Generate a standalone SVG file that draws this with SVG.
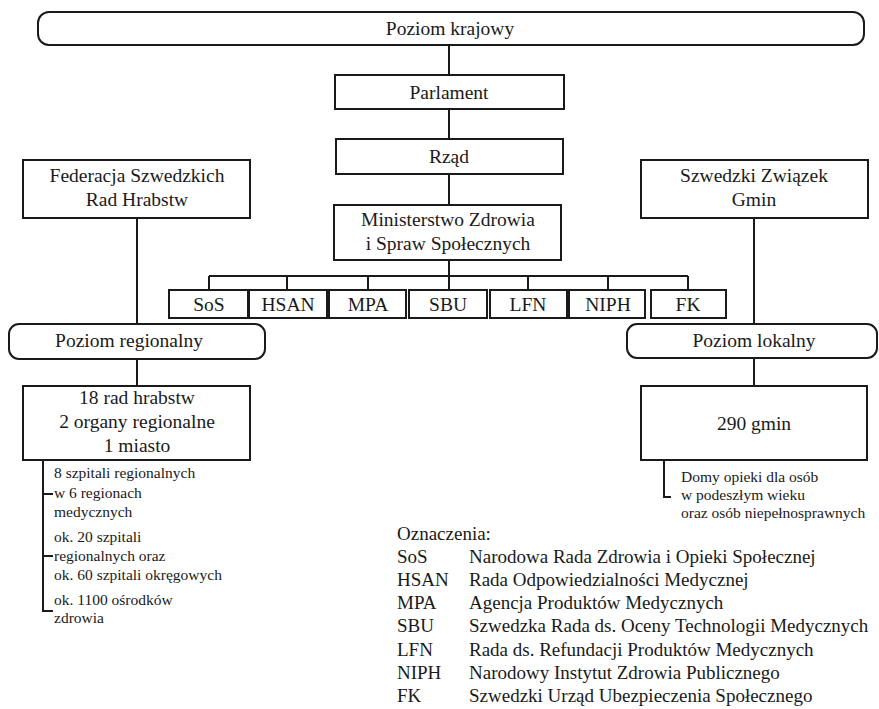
<svg xmlns="http://www.w3.org/2000/svg" width="879" height="709" viewBox="0 0 879 709">
<style>
.b{fill:#fff;stroke:#1a1a1a;stroke-width:2}
.l{fill:none;stroke:#1a1a1a;stroke-width:2}
text{font-family:"Liberation Serif","Times New Roman",serif;fill:#1a1a1a}
.t{font-size:19.5px;text-anchor:middle}
.s{font-size:15.5px}
.g{font-size:19px}
</style>
<rect width="879" height="709" fill="#fff"/>
<g id="connectors">
<path class="l" d="M449 45V75M449 109V139M449 174V205M449 260V290M209 276H688M209 276V290M287 276V290M368 276V290M528 276V290M608 276V290M688 276V290"/>
<path class="l" d="M137 218V324M137 359V386M754 218V324M754 358V386"/>
<path class="l" d="M43 460V611H53M43 494H53M43 556H53M664 460V497H671"/>
</g>
<g id="krajowy"><rect class="b" x="38" y="12" width="826" height="33" rx="11"/><text class="t" x="450" y="35">Poziom krajowy</text></g>
<g id="parlament"><rect class="b" x="335" y="75" width="229" height="34"/><text class="t" x="449" y="99">Parlament</text></g>
<g id="rzad"><rect class="b" x="336" y="139" width="227" height="35"/><text class="t" x="449" y="163">Rząd</text></g>
<g id="ministerstwo"><rect class="b" x="334" y="205" width="227" height="55"/><text class="t" x="448" y="226">Ministerstwo Zdrowia</text><text class="t" x="448" y="250">i Spraw Społecznych</text></g>
<g id="sos"><rect class="b" x="169" y="290" width="79" height="28"/><text class="t" x="209" y="311">SoS</text></g>
<g id="hsan"><rect class="b" x="249" y="290" width="78" height="28"/><text class="t" x="288" y="311">HSAN</text></g>
<g id="mpa"><rect class="b" x="329" y="290" width="77" height="28"/><text class="t" x="368" y="311">MPA</text></g>
<g id="sbu"><rect class="b" x="409" y="290" width="78" height="28"/><text class="t" x="448" y="311">SBU</text></g>
<g id="lfn"><rect class="b" x="490" y="290" width="77" height="28"/><text class="t" x="528" y="311">LFN</text></g>
<g id="niph"><rect class="b" x="569" y="290" width="76" height="28"/><text class="t" x="608" y="311">NIPH</text></g>
<g id="fk"><rect class="b" x="651" y="290" width="75" height="28"/><text class="t" x="688" y="311">FK</text></g>
<g id="federacja"><rect class="b" x="23" y="160" width="227" height="58"/><text class="t" x="137" y="182">Federacja Szwedzkich</text><text class="t" x="137" y="206">Rad Hrabstw</text></g>
<g id="zwiazek"><rect class="b" x="641" y="160" width="227" height="58"/><text class="t" x="754" y="182">Szwedzki Związek</text><text class="t" x="754" y="206">Gmin</text></g>
<g id="regionalny"><rect class="b" x="9" y="324" width="256" height="35" rx="10"/><text class="t" x="129" y="347">Poziom regionalny</text></g>
<g id="lokalny"><rect class="b" x="627" y="324" width="250" height="34" rx="10"/><text class="t" x="754" y="347">Poziom lokalny</text></g>
<g id="rady"><rect class="b" x="23" y="386" width="227" height="74"/><text class="t" x="137" y="404">18 rad hrabstw</text><text class="t" x="137" y="428">2 organy regionalne</text><text class="t" x="137" y="452">1 miasto</text></g>
<g id="gminy"><rect class="b" x="641" y="386" width="226" height="74"/><text class="t" x="754" y="430">290 gmin</text></g>
<g id="szpitale" class="s">
<text x="54" y="478">8 szpitali regionalnych</text>
<text x="54" y="498">w 6 regionach</text>
<text x="54" y="517">medycznych</text>
<text x="54" y="542">ok. 20 szpitali</text>
<text x="54" y="561">regionalnych oraz</text>
<text x="54" y="580">ok. 60 szpitali okręgowych</text>
<text x="54" y="605">ok. 1100 ośrodków</text>
<text x="54" y="623">zdrowia</text>
</g>
<g id="domy" class="s">
<text x="681" y="482">Domy opieki dla osób</text>
<text x="681" y="500">w podeszłym wieku</text>
<text x="681" y="518">oraz osób niepełnosprawnych</text>
</g>
<g id="legenda" class="g">
<text x="397" y="540">Oznaczenia:</text>
<text x="397" y="563">SoS</text><text x="469" y="563">Narodowa Rada Zdrowia i Opieki Społecznej</text>
<text x="397" y="586">HSAN</text><text x="469" y="586">Rada Odpowiedzialności Medycznej</text>
<text x="397" y="609">MPA</text><text x="469" y="609">Agencja Produktów Medycznych</text>
<text x="397" y="632">SBU</text><text x="469" y="632">Szwedzka Rada ds. Oceny Technologii Medycznych</text>
<text x="397" y="656">LFN</text><text x="469" y="656">Rada ds. Refundacji Produktów Medycznych</text>
<text x="397" y="679">NIPH</text><text x="469" y="679">Narodowy Instytut Zdrowia Publicznego</text>
<text x="397" y="702">FK</text><text x="469" y="702">Szwedzki Urząd Ubezpieczenia Społecznego</text>
</g>
</svg>
